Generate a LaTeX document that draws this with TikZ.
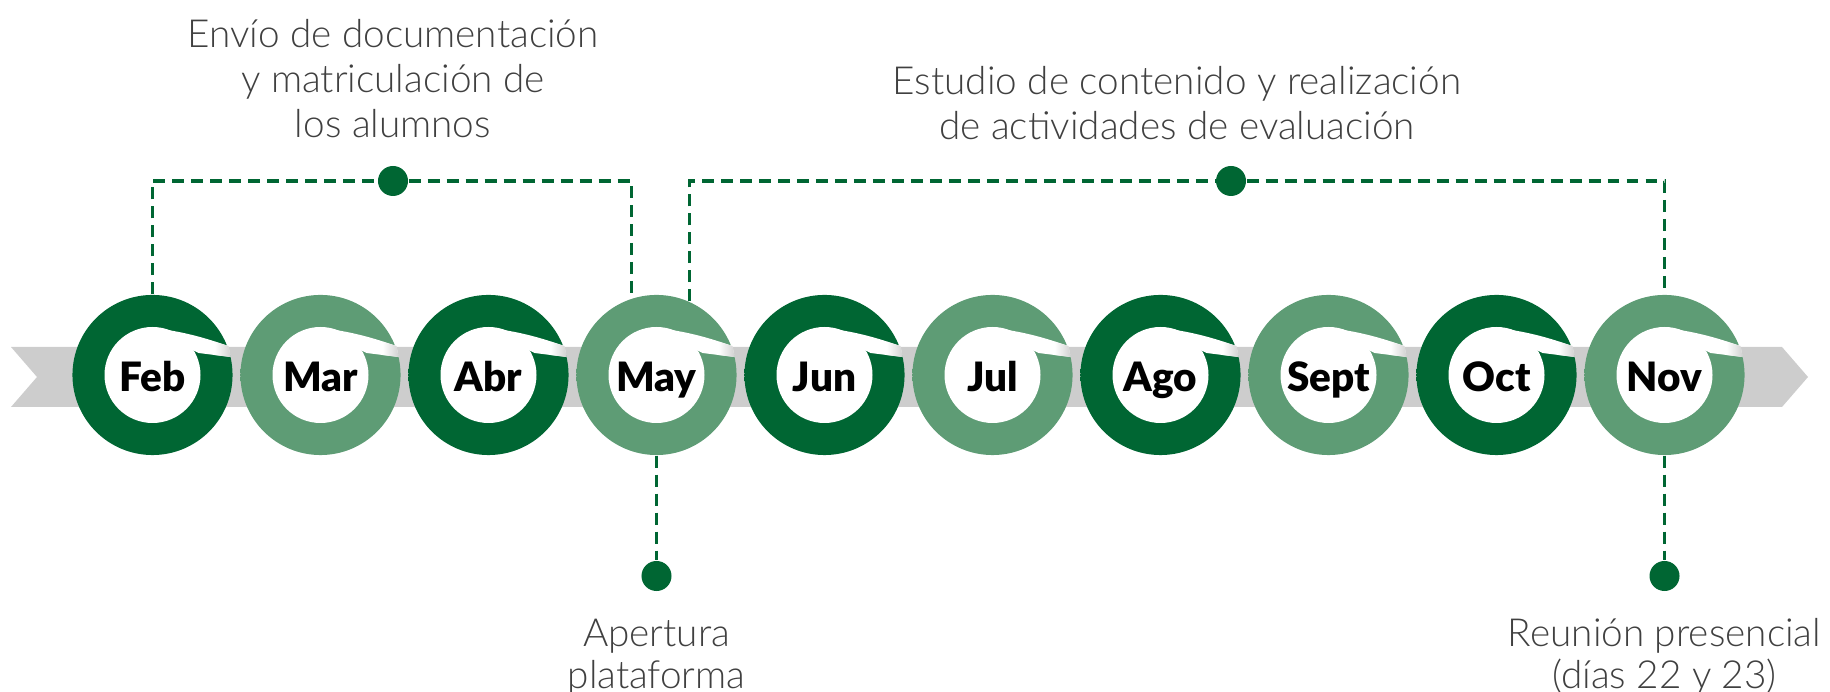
\documentclass[tikz,border=0pt]{standalone}
\usepackage{fontspec}
\newfontfamily\notefont{Lato Light}
\newfontfamily\monthfont{Lato Black}
\usepackage{tikz}

\definecolor{gdark}{RGB}{0,102,51}
\definecolor{gdarkedge}{RGB}{0,66,33}
\definecolor{glight}{RGB}{94,156,117}
\definecolor{glightedge}{RGB}{64,104,78}
\definecolor{bandgray}{RGB}{205,205,205}
\definecolor{notegray}{RGB}{64,64,64}

\pgfdeclareradialshading{darkringshade}{\pgfpoint{5bp}{-5bp}}{color(0bp)=(gdark); color(43bp)=(gdark); color(57bp)=(gdarkedge); color(60bp)=(gdarkedge)}
\pgfdeclareradialshading{lightringshade}{\pgfpoint{5bp}{-5bp}}{color(0bp)=(glight); color(43bp)=(glight); color(57bp)=(glightedge); color(60bp)=(glightedge)}

\tikzset{
  ring/.style={circle, minimum size=1.6cm, inner sep=0pt},
  darkring/.style={ring, shading=darkringshade},
  lightring/.style={ring, shading=lightringshade},
  month/.style={font=\monthfont\fontsize{11.5}{13}\selectfont, text=black, anchor=base, yshift=-0.165cm},
  note/.style={font=\notefont\fontsize{11}{12.8}\selectfont, text=notegray, align=center, anchor=base},
  dot/.style={circle, fill=gdark, minimum size=0.3cm, inner sep=0pt},
  link/.style={gdark, line width=0.9pt, dash pattern=on 3.4pt off 2pt}
}

\begin{document}
\begin{tikzpicture}[x=0.01cm, y=-0.01cm]
  \useasboundingbox (0,0) rectangle (1830,692);
  % grey band with arrow tip
  \fill[bandgray] (11,347) -- (1782,347) -- (1808,377) -- (1782,407) -- (11,407) -- (37,377) -- cycle;

  % month rings
  \foreach \name/\lab/\kind [count=\i from 0] in {feb/Feb/darkring, mar/Mar/lightring, abr/Abr/darkring,
      may/May/lightring, jun/Jun/darkring, jul/Jul/lightring, ago/Ago/darkring,
      sept/Sept/lightring, oct/Oct/darkring, nov/Nov/lightring} {
    \node[\kind] (\name) at ({152.5+168*\i},375) {};
    \begin{scope}[shift={(\name.center)}]
      \fill[white] (0,0) circle (48);
      \fill[white] (-6,-48) to[bend left=6] (76,-29) -- (78,-18) -- (46,-22) -- cycle;
      \shade[left color=white, right color=black!18] (62,-33) -- (76,-29) -- (78,-18) -- (62,-20) -- cycle;
    \end{scope}
    \node[month] (\name-lab) at (\name.center) {\lab};
  }

  % dots
  \node[dot] (docdot) at (393,181) {};
  \node[dot] (studydot) at (1231,181) {};
  \node[dot] (platdot) at (656.5,576) {};
  \node[dot] (meetdot) at (1664.5,576) {};

  % dashed brackets
  \draw[link] (feb.north) |- (docdot) -| (may.108);
  \draw[link] (may.66) |- (studydot) -| (nov.north);
  \draw[link] (may.south) -- (platdot);
  \draw[link] (nov.south) -- (meetdot);

  % Labels (base = last line)
  \node[note] (doctext) at (393,137.5) {Envío de documentación\\y matriculación de\\los alumnos};
  \node[note] (studytext) at (1177,139.5) {Estudio de contenido y realización\\de actividades de evaluación};
  \node[note, font=\notefont\fontsize{11}{12}\selectfont] (plattext) at (656.5,689) {Apertura\\plataforma};
  \node[note, font=\notefont\fontsize{11}{12}\selectfont] (meettext) at (1664.5,689) {Reunión presencial\\(días 22 y 23)};
\end{tikzpicture}
\end{document}
